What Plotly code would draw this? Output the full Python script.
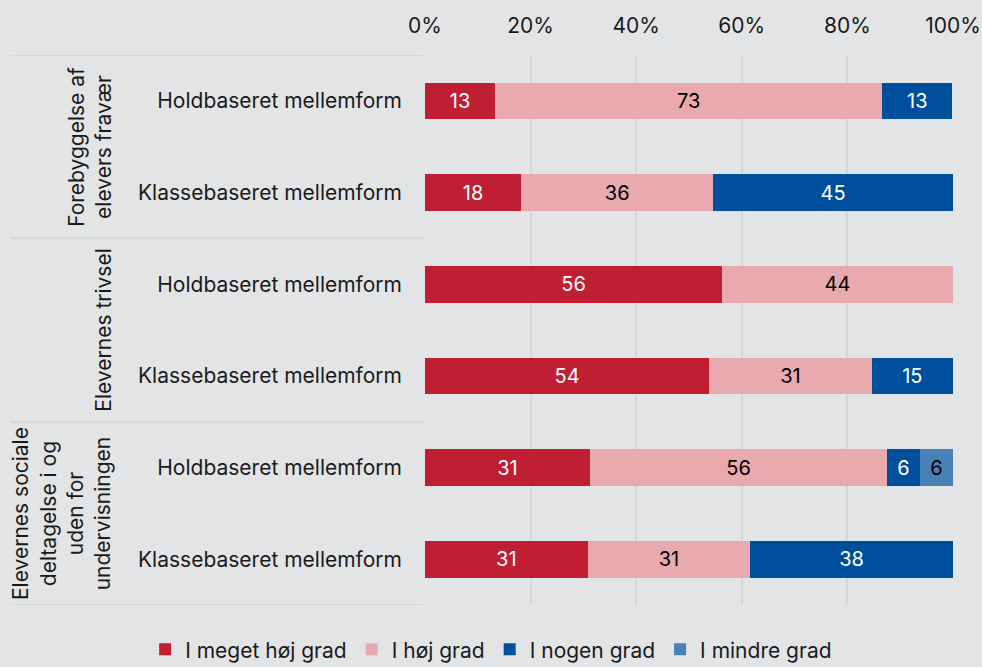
import plotly.graph_objects as go

# rækker, oppefra og ned
rows = [
    "Holdbaseret mellemform",
    "Klassebaseret mellemform",
    "Holdbaseret mellemform",
    "Klassebaseret mellemform",
    "Holdbaseret mellemform",
    "Klassebaseret mellemform",
]
groups = [
    "Forebyggelse af<br>elevers fravær",
    "Elevernes trivsel",
    "Elevernes sociale<br>deltagelse i og<br>uden for<br>undervisningen",
]

series_names = ["I meget høj grad", "I høj grad", "I nogen grad", "I mindre grad"]
meget_hoej = [13.3, 18.2, 56.25, 53.8, 31.25, 30.8]
hoej = [73.3, 36.4, 43.75, 30.8, 56.25, 30.8]
nogen = [13.3, 45.4, 0, 15.4, 6.25, 38.4]
mindre = [0, 0, 0, 0, 6.25, 0]

pct_ticks = [0, 20, 40, 60, 80, 100]

colors = ["#c01e33", "#e8a9af", "#004f9c", "#4a80b6"]
text_colors = ["white", "black", "white", "black"]

BG = "#e3e4e6"
LINE = "#d5d6d8"
FONT = "Inter"
FS = 21

fig = go.Figure()
ypos = list(range(len(rows)))
for name, vals, col, tcol in zip(series_names, [meget_hoej, hoej, nogen, mindre], colors, text_colors):
    fig.add_trace(go.Bar(
        y=ypos,
        x=vals,
        name=name,
        orientation="h",
        marker=dict(color=col, line=dict(width=0)),
        text=[f"{v:.0f}" if v > 0 else "" for v in vals],
        textposition="inside",
        insidetextanchor="middle",
        textfont=dict(color=tcol, size=20, family=FONT),
        textangle=0,
    ))

# gruppe-skillelinjer til venstre
for yb in [-0.5, 1.5, 3.5, 5.5]:
    fig.add_shape(type="line", xref="paper", yref="y",
                  x0=-0.786, x1=-0.003, y0=yb, y1=yb,
                  line=dict(color=LINE, width=2), layer="below")

for i, g in enumerate(groups):
    fig.add_annotation(text=g, xref="paper", yref="y",
                       x=-0.583, y=2 * i + 0.5, xanchor="right", yanchor="middle",
                       textangle=-90, showarrow=False,
                       font=dict(size=FS, family=FONT, color="#1a1a1a"))

fig.update_layout(
    barmode="stack",
    bargap=0.6,
    width=982,
    height=667,
    margin=dict(l=425, r=29, t=55, b=62, autoexpand=False),
    paper_bgcolor=BG,
    plot_bgcolor=BG,
    font=dict(family=FONT, size=FS, color="#1a1a1a"),
    legend=dict(orientation="h", x=-0.53, xanchor="left", y=-0.044, yanchor="top",
                font=dict(size=FS), itemwidth=30, traceorder="normal"),
    showlegend=True,
)
fig.update_xaxes(side="top", range=[0, 100], tickvals=pct_ticks,
                 ticktext=[f"{t}%" for t in pct_ticks],
                 showgrid=True, gridcolor=LINE, gridwidth=2, ticklabelstandoff=17,
                 zeroline=False, showline=False, fixedrange=True)
fig.update_yaxes(range=[5.5, -0.5], tickvals=ypos, ticktext=rows,
                 showgrid=False, zeroline=False, ticklabelstandoff=22, fixedrange=True)

fig.write_html("out.html", config={"displayModeBar": False},
               post_script="document.body.style.margin='0';")
